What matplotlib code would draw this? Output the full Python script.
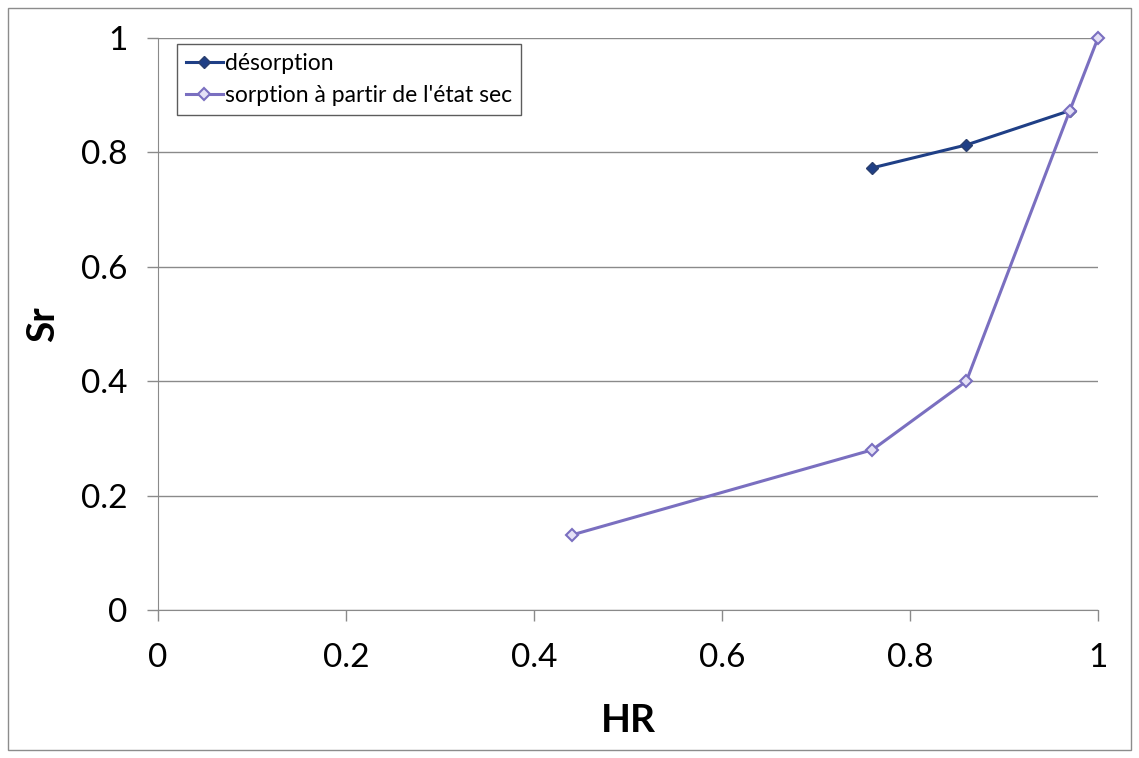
import matplotlib.pyplot as plt
from matplotlib.patches import Rectangle

plt.switch_backend('Agg')
plt.rcParams['font.family'] = ['Lato', 'DejaVu Sans']

# data
hr_desorption = [0.76, 0.86, 0.97]
sr_desorption = [0.773, 0.813, 0.873]

hr_sorption = [0.44, 0.76, 0.86, 0.97, 1.0]
sr_sorption = [0.131, 0.280, 0.400, 0.873, 1.0]

label_desorption = "désorption"
label_sorption = "sorption à partir de l'état sec"
ticks = [0, 0.2, 0.4, 0.6, 0.8, 1.0]
tick_labels = ["0", "0.2", "0.4", "0.6", "0.8", "1"]

fig = plt.figure(figsize=(11.39, 7.58), dpi=100)
fig.set_facecolor('white')
ax = fig.add_axes([0.1387, 0.1953, 0.8253, 0.7546])

# outer frame of the chart
fig.patches.append(Rectangle((0.007, 0.011), 0.986, 0.978, transform=fig.transFigure,
                             fill=False, edgecolor='#8c8c8c', linewidth=1.0))

ax.set_xlim(0, 1)
ax.set_ylim(0, 1)
ax.yaxis.grid(True, color='#8a8a8a', linewidth=1.0)
ax.set_axisbelow(True)
for side in ['top', 'right']:
    ax.spines[side].set_visible(False)
for side in ['left', 'bottom']:
    ax.spines[side].set_color('#8a8a8a')

ax.set_xticks(ticks)
ax.set_xticklabels(tick_labels)
ax.set_yticks(ticks)
ax.set_yticklabels(tick_labels)
ax.tick_params(axis='both', labelsize=24, color='#8a8a8a', length=8, width=1.0)
ax.tick_params(axis='x', pad=16)
ax.tick_params(axis='y', pad=14)

ax.plot(hr_desorption, sr_desorption, color='#1f3f86', linewidth=2.2, marker='D',
        markersize=6, markerfacecolor='#1f3f86', markeredgecolor='#2b3f6e', label=label_desorption,
        clip_on=False, zorder=3)
ax.plot(hr_sorption, sr_sorption, color='#7a6fc0', linewidth=2.2, marker='D',
        markersize=6, markerfacecolor='#e4e0f6', markeredgecolor='#7a6fc0', markeredgewidth=1.5,
        label=label_sorption, clip_on=False, zorder=4)

ax.set_xlabel('HR', fontsize=28, fontweight='bold')
ax.set_ylabel('Sr', fontsize=28, fontweight='bold')
ax.xaxis.set_label_coords(0.5, -0.163)
ax.yaxis.set_label_coords(-0.104, 0.5)

leg = ax.legend(loc='upper left', bbox_to_anchor=(0.02, 0.99), fontsize=16.5,
                frameon=True, fancybox=False, handlelength=1.6, handletextpad=0.1,
                borderpad=0.4, labelspacing=0.5, borderaxespad=0.0)
leg.get_frame().set_edgecolor('#333333')
leg.get_frame().set_linewidth(1.0)

plt.savefig('out.png', dpi=100)
